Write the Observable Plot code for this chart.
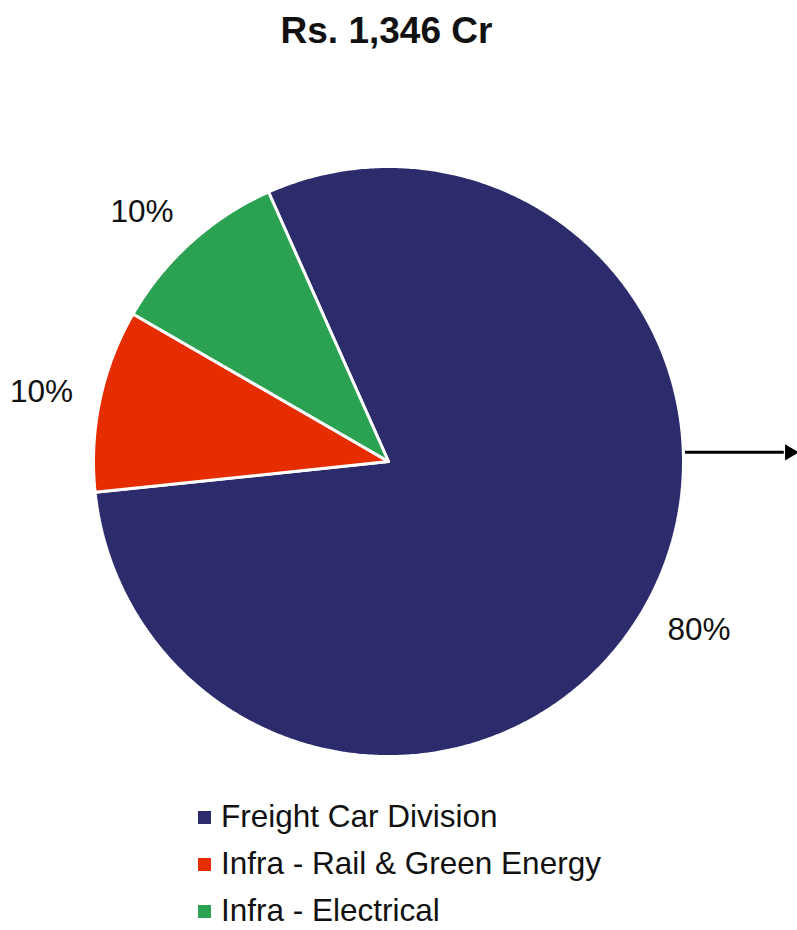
<!DOCTYPE html>
<html>
<head>
<meta charset="utf-8">
<script src="https://cdn.jsdelivr.net/npm/d3@7"></script>
<script src="https://cdn.jsdelivr.net/npm/@observablehq/plot@0.6"></script>
<style>
  html, body { margin: 0; padding: 0; background: #fff; }
  body { width: 797px; height: 930px; overflow: hidden; font-family: "Liberation Sans", Arial, sans-serif; color: #111; }
  #title { height: 70px; line-height: 62px; text-align: center; font-weight: bold; font-size: 37px; color: #111; padding-right: 24px; }
  #chart { height: 720px; }
  #legend { margin-top: 12px; padding-left: 198px; }
  .row { display: flex; align-items: center; height: 30px; line-height: 1; margin-bottom: 17px; font-size: 31.5px; color: #111; }
  .row:last-child { margin-bottom: 0; }
  .sw { width: 13px; height: 13px; margin-right: 10px; flex: none; }
</style>
</head>
<body>
<div id="title"></div>
<div id="chart"></div>
<div id="legend"></div>
<script>
// ---- data ----
const title = "Rs. 1,346 Cr";
const categories = ["Freight Car Division", "Infra - Rail & Green Energy", "Infra - Electrical"];
const shares = [80, 10, 10];
const shareLabels = ["80%", "10%", "10%"];
const colors = ["#2C2C6C", "#E52D00", "#2BA152"];

// ---- layout ----
const W = 797, H = 720, CX = 388, CY = 391, R = 295;
const startDeg = -24;
const labelFont = 31.5;
const labelGap = 30; // px outside the pie edge

const arcs = d3.pie().sort(null)
  .startAngle(startDeg * Math.PI / 180)
  .endAngle(startDeg * Math.PI / 180 + 2 * Math.PI)(shares);

function slicePoly(a) {
  const pts = [[0, 0]];
  const n = Math.max(2, Math.ceil((a.endAngle - a.startAngle) / (0.5 * Math.PI / 180)));
  for (let i = 0; i <= n; i++) {
    const t = a.startAngle + (a.endAngle - a.startAngle) * i / n;
    pts.push([Math.sin(t), -Math.cos(t)]);
  }
  pts.push([0, 0]);
  return pts;
}

// outside-end label placement: label box sits just outside the rim
const labelData = arcs.map((a, i) => {
  const m = (a.startAngle + a.endAngle) / 2;
  const dx = Math.sin(m), dy = -Math.cos(m);
  const bw = labelFont * 0.56 * shareLabels[i].length * 1.1 / 2, bh = labelFont * 0.72 / 2;
  return {
    x: (dx * (R + labelGap) + Math.sign(dx) * bw) / R,
    y: (dy * (R + labelGap) + dy * bh) / R,
    text: shareLabels[i]
  };
});

// annotation arrow to the right of the pie
const arrowY = -0.031, arrowX1 = 1.005, arrowX2 = 1.36;

document.getElementById("title").textContent = title;

const marks = arcs.map((a, i) =>
  Plot.line(slicePoly(a), {
    x: d => d[0], y: d => d[1],
    fill: colors[i], stroke: "white", strokeWidth: 3, strokeLinejoin: "miter", curve: "linear"
  })
);
marks.push(Plot.text(labelData, {
  x: "x", y: "y", text: "text", fontSize: labelFont, fill: "#111",
  fontFamily: "Liberation Sans, Arial, sans-serif", textAnchor: "middle", lineAnchor: "middle"
}));
marks.push(Plot.link([{ x1: arrowX1, x2: arrowX2 - 0.02, y: arrowY }], {
  x1: "x1", x2: "x2", y1: "y", y2: "y", stroke: "black", strokeWidth: 3
}));
marks.push(Plot.dot([{ x: arrowX2, y: arrowY }], {
  x: "x", y: "y", symbol: "triangle", rotate: 90, r: 6, fill: "black", stroke: "none"
}));

const chart = Plot.plot({
  width: W, height: H,
  margin: 0,
  x: { domain: [-CX / R, (W - CX) / R], range: [0, W], axis: null },
  y: { domain: [-CY / R, (H - CY) / R], range: [0, H], axis: null },
  style: { background: "white", overflow: "visible" },
  marks
});
document.getElementById("chart").appendChild(chart);

const legend = document.getElementById("legend");
categories.forEach((c, i) => {
  const row = document.createElement("div");
  row.className = "row";
  const sw = document.createElement("span");
  sw.className = "sw";
  sw.style.background = colors[i];
  const tx = document.createElement("span");
  tx.textContent = c;
  row.appendChild(sw);
  row.appendChild(tx);
  legend.appendChild(row);
});
</script>
</body>
</html>
